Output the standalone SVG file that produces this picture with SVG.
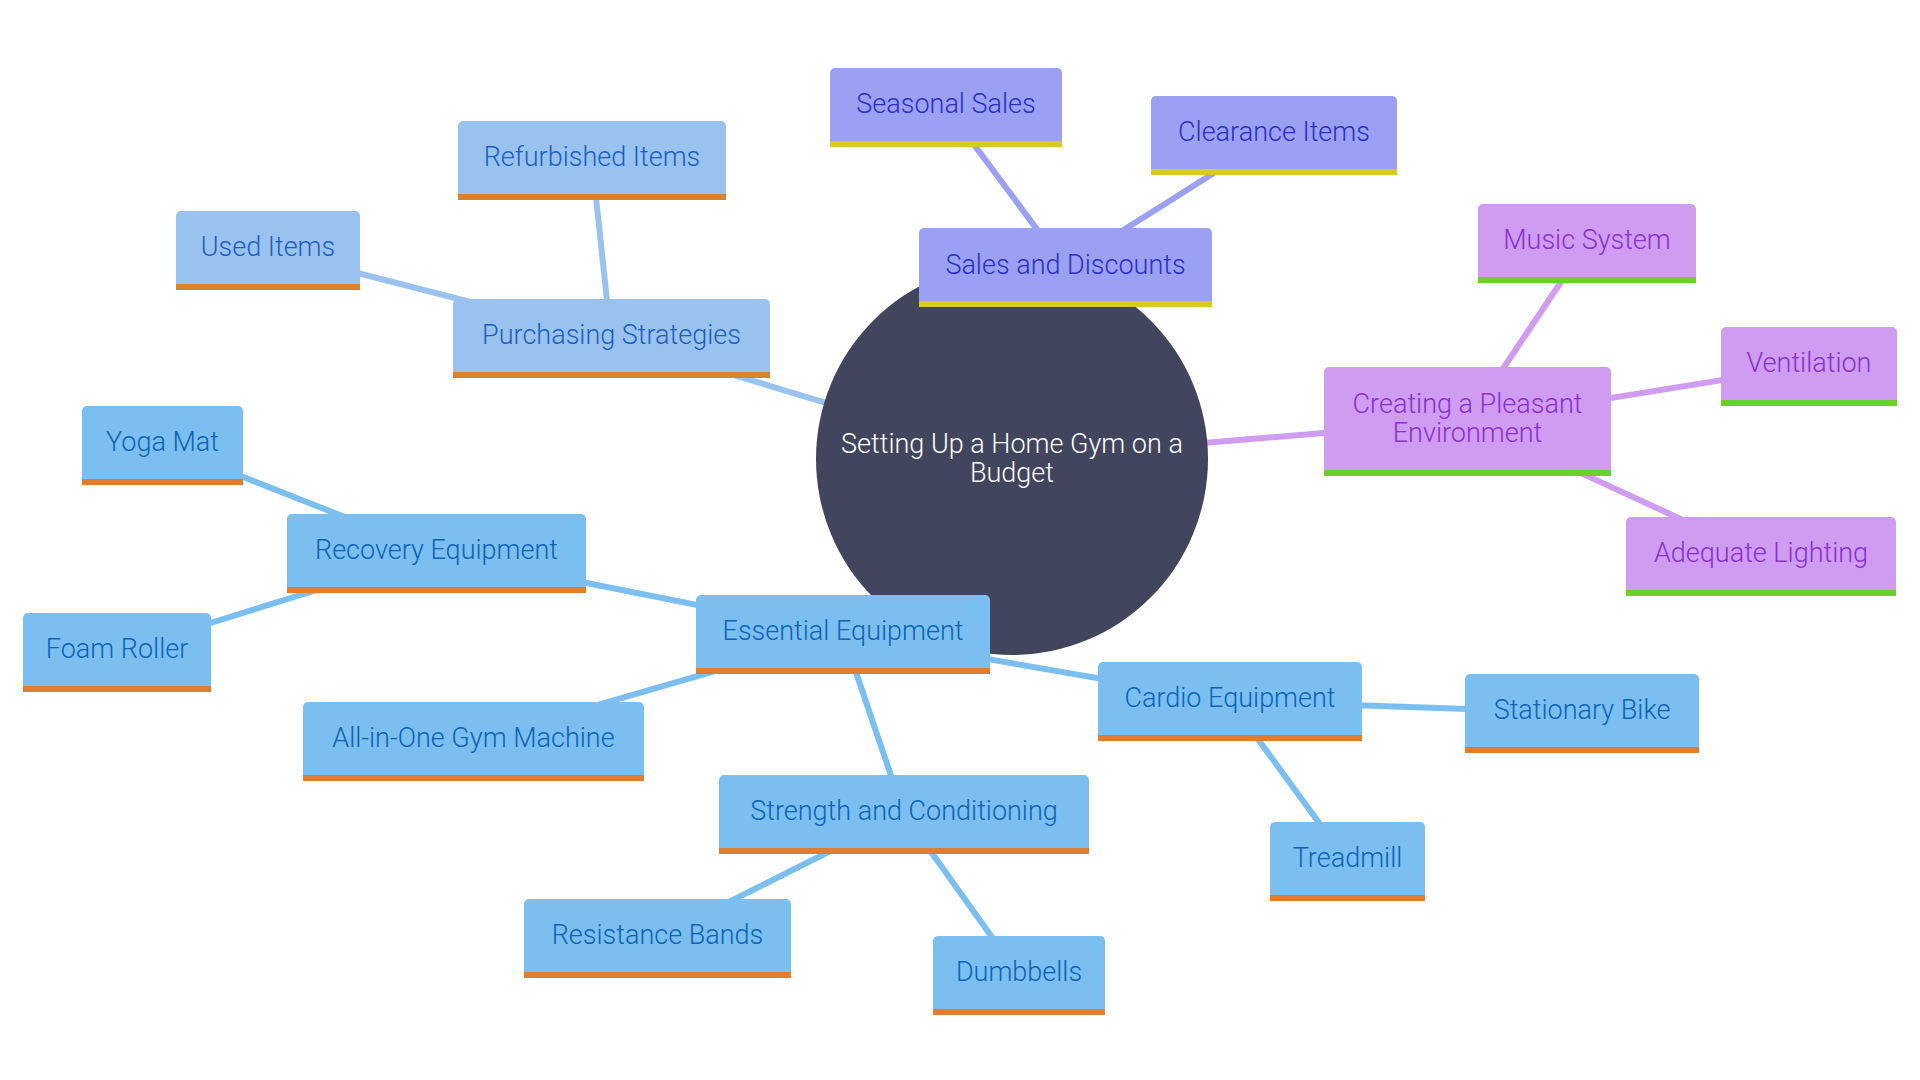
<svg xmlns="http://www.w3.org/2000/svg" width="1920" height="1080" viewBox="0 0 1920 1080">
<style>
text{font-family:Roboto,"Liberation Sans",sans-serif;font-size:27px;font-weight:300;text-anchor:middle}
.edge{stroke-width:6;fill:none;stroke-linecap:butt}
.eb{stroke:#7bbff0}.ep{stroke:#9ac2ee}.es{stroke:#9ba0f2}.ev{stroke:#cf9cf1}
.nb rect.b{fill:#7bbff0}.nb rect.k{fill:#e27c2e}.nb text{fill:#0d63b5}
.np rect.b{fill:#9ac2ee}.np rect.k{fill:#d9822a}.np text{fill:#1a5fc2}
.ns rect.b{fill:#9ba0f2}.ns rect.k{fill:#d6cb25}.ns text{fill:#2b30c0}
.nv rect.b{fill:#cf9cf1}.nv rect.k{fill:#6bd12a}.nv text{fill:#8a30cc}
</style>
<rect width="1920" height="1080" fill="#ffffff"/>
<g id="connectors">
<line class="edge ep" x1="611" y1="338" x2="1012" y2="459"/>
<line class="edge es" x1="1065" y1="267" x2="1012" y2="459"/>
<line class="edge ev" x1="1468" y1="421" x2="1012" y2="459"/>
<line class="edge eb" x1="843" y1="634" x2="1012" y2="459"/>
<line class="edge es" x1="946" y1="107" x2="1065" y2="267"/>
<line class="edge es" x1="1274" y1="135" x2="1065" y2="267"/>
<line class="edge ep" x1="268" y1="250" x2="611" y2="338"/>
<line class="edge ep" x1="592" y1="160" x2="611" y2="338"/>
<line class="edge ev" x1="1587" y1="243" x2="1468" y2="421"/>
<line class="edge ev" x1="1809" y1="366" x2="1468" y2="421"/>
<line class="edge ev" x1="1761" y1="556" x2="1468" y2="421"/>
<line class="edge eb" x1="436" y1="553" x2="843" y2="634"/>
<line class="edge eb" x1="162" y1="445" x2="436" y2="553"/>
<line class="edge eb" x1="117" y1="652" x2="436" y2="553"/>
<line class="edge eb" x1="473" y1="741" x2="843" y2="634"/>
<line class="edge eb" x1="904" y1="814" x2="843" y2="634"/>
<line class="edge eb" x1="657" y1="938" x2="904" y2="814"/>
<line class="edge eb" x1="1019" y1="975" x2="904" y2="814"/>
<line class="edge eb" x1="1230" y1="701" x2="843" y2="634"/>
<line class="edge eb" x1="1582" y1="713" x2="1230" y2="701"/>
<line class="edge eb" x1="1347" y1="861" x2="1230" y2="701"/>
</g>
<g id="root">
<circle cx="1012" cy="459" r="196" fill="#41455e"/>
<text x="1012" y="453" fill="#ffffff">Setting Up a Home Gym on a</text>
<text x="1012" y="482" fill="#ffffff">Budget</text>
</g>
<g id="purchasing" class="np"><rect class="b" x="453" y="299" width="317" height="78" rx="5"/><rect class="k" x="453" y="372" width="317" height="6"/><text x="611.5" y="344">Purchasing Strategies</text></g>
<g id="refurbished" class="np"><rect class="b" x="458" y="121" width="268" height="78" rx="5"/><rect class="k" x="458" y="194" width="268" height="6"/><text x="592" y="166">Refurbished Items</text></g>
<g id="used" class="np"><rect class="b" x="176" y="211" width="184" height="78" rx="5"/><rect class="k" x="176" y="284" width="184" height="6"/><text x="268" y="256">Used Items</text></g>
<g id="sales" class="ns"><rect class="b" x="919" y="228" width="293" height="78" rx="5"/><rect class="k" x="919" y="301" width="293" height="6"/><text x="1065.5" y="274">Sales and Discounts</text></g>
<g id="seasonal" class="ns"><rect class="b" x="830" y="68" width="232" height="78" rx="5"/><rect class="k" x="830" y="141" width="232" height="6"/><text x="946" y="113">Seasonal Sales</text></g>
<g id="clearance" class="ns"><rect class="b" x="1151" y="96" width="246" height="78" rx="5"/><rect class="k" x="1151" y="169" width="246" height="6"/><text x="1274" y="141">Clearance Items</text></g>
<g id="creating" class="nv"><rect class="b" x="1324" y="367" width="287" height="108" rx="5"/><rect class="k" x="1324" y="470" width="287" height="6"/><text x="1467.5" y="413">Creating a Pleasant</text><text x="1467.5" y="442">Environment</text></g>
<g id="music" class="nv"><rect class="b" x="1478" y="204" width="218" height="78" rx="5"/><rect class="k" x="1478" y="277" width="218" height="6"/><text x="1587" y="249">Music System</text></g>
<g id="ventilation" class="nv"><rect class="b" x="1721" y="327" width="176" height="78" rx="5"/><rect class="k" x="1721" y="400" width="176" height="6"/><text x="1809" y="372">Ventilation</text></g>
<g id="lighting" class="nv"><rect class="b" x="1626" y="517" width="270" height="78" rx="5"/><rect class="k" x="1626" y="590" width="270" height="6"/><text x="1761" y="562">Adequate Lighting</text></g>
<g id="essential" class="nb"><rect class="b" x="696" y="595" width="294" height="78" rx="5"/><rect class="k" x="696" y="668" width="294" height="6"/><text x="843" y="640">Essential Equipment</text></g>
<g id="recovery" class="nb"><rect class="b" x="287" y="514" width="299" height="78" rx="5"/><rect class="k" x="287" y="587" width="299" height="6"/><text x="436.5" y="559">Recovery Equipment</text></g>
<g id="yoga" class="nb"><rect class="b" x="82" y="406" width="161" height="78" rx="5"/><rect class="k" x="82" y="479" width="161" height="6"/><text x="162.5" y="451">Yoga Mat</text></g>
<g id="foam" class="nb"><rect class="b" x="23" y="613" width="188" height="78" rx="5"/><rect class="k" x="23" y="686" width="188" height="6"/><text x="117" y="658">Foam Roller</text></g>
<g id="allinone" class="nb"><rect class="b" x="303" y="702" width="341" height="78" rx="5"/><rect class="k" x="303" y="775" width="341" height="6"/><text x="473.5" y="747">All-in-One Gym Machine</text></g>
<g id="strength" class="nb"><rect class="b" x="719" y="775" width="370" height="78" rx="5"/><rect class="k" x="719" y="848" width="370" height="6"/><text x="904" y="820">Strength and Conditioning</text></g>
<g id="resistance" class="nb"><rect class="b" x="524" y="899" width="267" height="78" rx="5"/><rect class="k" x="524" y="972" width="267" height="6"/><text x="657.5" y="944">Resistance Bands</text></g>
<g id="dumbbells" class="nb"><rect class="b" x="933" y="936" width="172" height="78" rx="5"/><rect class="k" x="933" y="1009" width="172" height="6"/><text x="1019" y="981">Dumbbells</text></g>
<g id="cardio" class="nb"><rect class="b" x="1098" y="662" width="264" height="78" rx="5"/><rect class="k" x="1098" y="735" width="264" height="6"/><text x="1230" y="707">Cardio Equipment</text></g>
<g id="stationary" class="nb"><rect class="b" x="1465" y="674" width="234" height="78" rx="5"/><rect class="k" x="1465" y="747" width="234" height="6"/><text x="1582" y="719">Stationary Bike</text></g>
<g id="treadmill" class="nb"><rect class="b" x="1270" y="822" width="155" height="78" rx="5"/><rect class="k" x="1270" y="895" width="155" height="6"/><text x="1347.5" y="867">Treadmill</text></g>
</svg>
